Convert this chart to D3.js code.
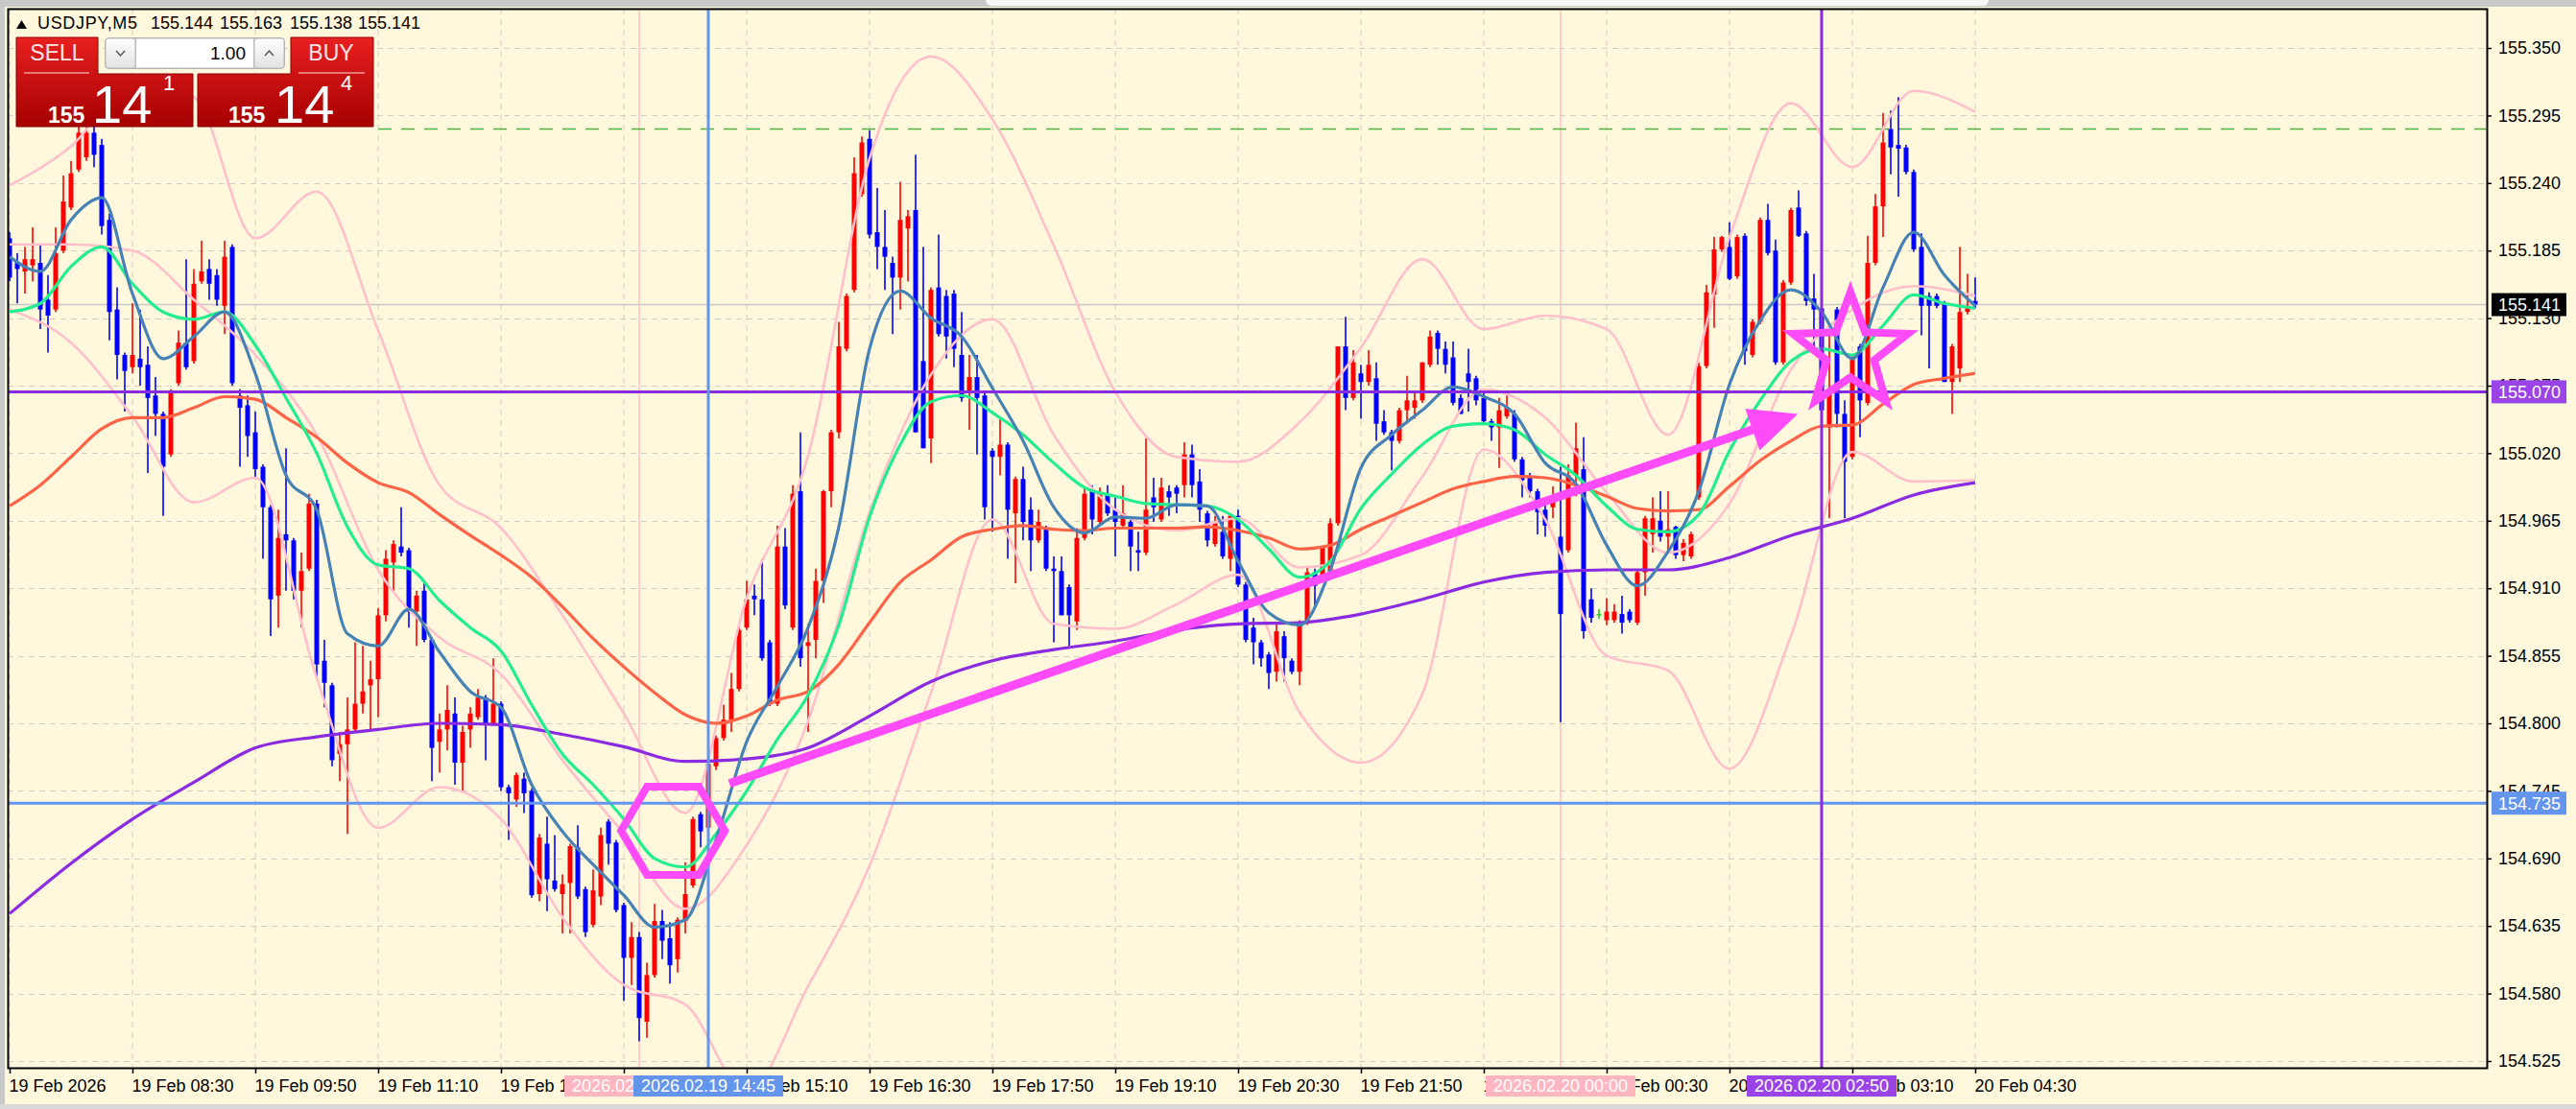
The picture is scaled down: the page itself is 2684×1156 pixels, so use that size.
<!DOCTYPE html>
<html><head><meta charset="utf-8">
<script src="https://cdn.jsdelivr.net/npm/d3@7"></script>
<style>html,body{margin:0;padding:0;background:#FFF8DC;overflow:hidden}text{font-family:"Liberation Sans",Arial,sans-serif}</style>
</head><body><svg id="c" width="2684" height="1156"></svg>
<script>
// ---------------- DATA ----------------
const symbol = "USDJPY,M5";
const headerOHLC = ["155.144", "155.163", "155.138", "155.141"];
const startTime = "2026.02.19 07:10"; // first bar, 5-minute bars
const opens = [155.195,155.175,155.168,155.173,155.175,155.145,155.137,155.185,155.220,155.251,155.261,155.281,155.271,155.210,155.137,155.100,155.090,155.097,155.092,155.067,155.052,155.019,155.077,155.110,155.095,155.160,155.170,155.165,155.140,155.188,155.067,155.059,155.037,155.009,154.976,154.904,154.954,154.949,154.908,154.926,154.979,154.851,154.831,154.775,154.783,154.795,154.816,154.831,154.836,154.888,154.931,154.944,154.941,154.891,154.908,154.868,154.785,154.795,154.808,154.768,154.795,154.805,154.821,154.800,154.816,154.748,154.738,154.755,154.745,154.661,154.702,154.672,154.661,154.670,154.699,154.665,154.636,154.659,154.720,154.703,154.652,154.609,154.626,154.557,154.595,154.639,154.625,154.608,154.639,154.668,154.726,154.715,154.765,154.788,154.803,154.828,154.878,154.904,154.901,154.866,154.816,154.944,154.878,154.989,154.863,154.868,154.916,154.989,155.037,155.105,155.153,155.231,155.276,155.200,155.188,155.175,155.163,155.203,155.218,155.095,155.032,155.155,155.148,155.150,155.100,155.070,155.082,155.067,155.022,155.017,155.027,154.971,154.999,154.974,154.949,154.959,154.926,154.924,154.911,154.883,154.951,154.989,154.964,154.987,154.974,154.961,154.964,154.941,154.939,154.984,154.966,154.989,154.992,154.994,155.019,154.997,154.971,154.946,154.956,154.934,154.969,154.913,154.878,154.866,154.856,154.842,154.871,154.851,154.842,154.882,154.923,154.917,154.923,154.963,155.107,155.065,155.085,155.078,155.081,155.046,155.037,155.030,155.055,155.057,155.063,155.092,155.118,155.105,155.098,155.065,155.085,155.081,155.065,155.046,155.041,155.050,155.052,155.015,155.000,154.989,154.974,154.976,154.952,154.941,155.002,155.007,154.901,154.889,154.884,154.884,154.889,154.891,154.882,154.923,154.954,154.965,154.952,154.960,154.937,154.936,154.984,155.091,155.149,155.186,155.188,155.164,155.197,155.100,155.127,155.210,155.185,155.094,155.159,155.220,155.199,155.146,155.138,155.041,155.137,155.052,155.017,155.107,155.061,155.175,155.221,155.284,155.271,155.269,155.249,155.188,155.148,155.148,155.142,155.078,155.089,155.135,155.144];
const highs = [155.200,155.183,155.188,155.204,155.190,155.165,155.204,155.246,155.258,155.292,155.295,155.290,155.276,155.215,155.155,155.102,155.142,155.137,155.107,155.082,155.054,155.072,155.120,155.178,155.170,155.193,155.178,155.170,155.193,155.190,155.072,155.067,155.054,155.011,154.978,154.974,155.024,154.951,154.939,154.987,154.982,154.868,154.833,154.793,154.821,154.866,154.863,154.851,154.894,154.941,154.949,154.976,154.943,154.908,154.916,154.870,154.808,154.831,154.821,154.798,154.813,154.828,154.823,154.853,154.818,154.750,154.760,154.760,154.747,154.710,154.724,154.709,154.677,154.702,154.717,154.667,154.681,154.715,154.722,154.705,154.654,154.638,154.630,154.605,154.653,154.648,154.638,154.642,154.687,154.724,154.728,154.778,154.790,154.815,154.841,154.881,154.916,154.913,154.934,154.868,154.961,154.959,154.994,155.037,154.881,154.926,154.990,155.039,155.127,155.150,155.261,155.278,155.283,155.236,155.218,155.180,155.241,155.218,155.263,155.188,155.155,155.198,155.153,155.153,155.135,155.100,155.100,155.069,155.024,155.049,155.029,155.001,155.009,154.984,154.974,154.961,154.936,154.936,154.913,154.959,154.992,154.994,154.992,154.994,154.984,154.994,154.966,154.956,155.032,155.000,155.000,154.994,154.994,155.029,155.027,155.007,154.973,154.969,154.969,154.971,154.974,154.915,154.886,154.868,154.858,154.882,154.875,154.853,154.884,154.928,154.926,154.943,154.967,155.107,155.131,155.104,155.092,155.104,155.094,155.055,155.039,155.057,155.083,155.070,155.094,155.120,155.120,155.111,155.111,155.068,155.105,155.083,155.070,155.048,155.065,155.067,155.055,155.017,155.004,154.991,154.978,154.993,155.009,155.011,155.045,155.033,154.910,154.893,154.902,154.897,154.904,154.893,154.925,154.969,154.984,154.989,154.989,154.961,154.950,154.956,155.094,155.157,155.196,155.197,155.208,155.198,155.199,155.129,155.212,155.223,155.194,155.161,155.220,155.234,155.201,155.166,155.140,155.120,155.139,155.063,155.100,155.109,155.197,155.231,155.297,155.299,155.310,155.271,155.251,155.199,155.151,155.150,155.144,155.109,155.188,155.166,155.163];
const lows = [155.160,155.142,155.150,155.160,155.121,155.102,155.135,155.183,155.218,155.249,155.258,155.253,155.198,155.112,155.080,155.054,155.085,155.075,155.004,155.034,154.969,155.017,155.075,155.088,155.093,155.158,155.145,155.140,155.117,155.075,155.009,155.017,154.999,154.934,154.871,154.878,154.908,154.901,154.878,154.924,154.838,154.813,154.765,154.753,154.710,154.793,154.808,154.795,154.805,154.883,154.908,154.936,154.878,154.863,154.866,154.753,154.760,154.778,154.750,154.745,154.780,154.803,154.770,154.798,154.745,154.705,154.732,154.727,154.658,154.655,154.647,154.663,154.629,154.629,154.657,154.626,154.634,154.652,154.685,154.646,154.574,154.587,154.541,154.544,154.593,154.608,154.588,154.597,154.629,154.666,154.699,154.705,154.762,154.786,154.793,154.826,154.876,154.888,154.851,154.814,154.814,154.893,154.876,154.846,154.793,154.853,154.898,154.976,155.032,155.103,155.151,155.229,155.195,155.170,155.153,155.117,155.137,155.160,155.037,155.024,155.012,155.115,155.097,155.090,155.062,155.039,155.019,154.966,154.956,155.002,154.934,154.914,154.949,154.924,154.947,154.924,154.866,154.888,154.863,154.876,154.949,154.954,154.961,154.969,154.936,154.959,154.924,154.924,154.937,154.964,154.964,154.969,154.971,154.984,154.984,154.964,154.944,154.944,154.934,154.924,154.911,154.866,154.848,154.846,154.828,154.834,154.834,154.840,154.831,154.880,154.893,154.915,154.921,154.961,155.055,155.063,155.048,155.075,155.030,155.035,155.006,155.028,155.044,155.048,155.061,155.090,155.092,155.085,155.059,155.052,155.054,155.059,155.044,155.030,155.008,155.048,155.013,154.984,154.984,154.954,154.952,154.967,154.801,154.939,154.985,154.869,154.882,154.885,154.880,154.882,154.873,154.882,154.880,154.904,154.939,154.948,154.941,154.934,154.932,154.934,154.982,155.089,155.122,155.184,155.161,155.162,155.092,155.098,155.125,155.181,155.092,155.092,155.157,155.196,155.140,155.104,154.897,154.967,155.041,154.967,155.015,155.033,155.059,155.173,155.196,155.247,155.229,155.247,155.184,155.116,155.089,155.138,155.078,155.052,155.078,155.133,155.138];
const closes = [155.163,155.170,155.178,155.178,155.137,155.132,155.183,155.225,155.248,155.281,155.281,155.263,155.205,155.135,155.100,155.087,155.100,155.090,155.065,155.052,155.009,155.070,155.110,155.090,155.158,155.168,155.158,155.145,155.180,155.077,155.057,155.034,155.007,154.976,154.901,154.951,154.949,154.908,154.924,154.979,154.848,154.833,154.770,154.783,154.795,154.816,154.826,154.836,154.888,154.934,154.946,154.939,154.891,154.904,154.868,154.780,154.795,154.811,154.768,154.793,154.808,154.821,154.800,154.816,154.748,154.743,154.758,154.743,154.660,154.707,154.673,154.665,154.669,154.700,154.659,154.630,154.664,154.709,154.702,154.648,154.609,154.626,154.560,154.595,154.639,154.623,154.603,154.640,154.661,154.722,154.712,154.767,154.788,154.803,154.828,154.876,154.901,154.901,154.853,154.816,154.944,154.896,154.987,154.853,154.866,154.916,154.989,155.037,155.107,155.148,155.248,155.273,155.198,155.188,155.180,155.163,155.210,155.213,155.037,155.024,155.153,155.117,155.115,155.105,155.065,155.082,155.065,154.976,155.017,155.027,154.974,154.999,154.964,154.949,154.964,154.926,154.924,154.888,154.888,154.951,154.987,154.966,154.987,154.971,154.964,154.971,154.944,154.939,154.974,154.976,154.992,154.984,154.987,155.019,154.994,154.974,154.949,154.964,154.936,154.969,154.913,154.868,154.866,154.853,154.841,154.875,154.853,154.842,154.882,154.923,154.912,154.943,154.963,155.107,155.065,155.094,155.078,155.092,155.044,155.037,155.030,155.055,155.063,155.063,155.094,155.115,155.105,155.092,155.061,155.052,155.078,155.063,155.046,155.041,155.055,155.057,155.015,154.998,154.989,154.972,154.961,154.982,154.889,155.002,155.024,154.875,154.886,154.889,154.891,154.891,154.882,154.884,154.923,154.967,154.967,154.952,154.958,154.937,154.947,154.954,155.091,155.151,155.186,155.196,155.162,155.196,155.103,155.127,155.210,155.183,155.094,155.159,155.218,155.197,155.144,155.137,155.055,155.070,155.052,155.013,155.096,155.063,155.175,155.221,155.273,155.269,155.268,155.249,155.186,155.140,155.140,155.140,155.078,155.107,155.135,155.140,155.141];

// indicator readings (sampled every 4 bars)
const maStep = 4;
const maFast = [155.180,155.168,155.210,155.228,155.150,155.097,155.115,155.135,155.085,155.002,154.974,154.873,154.863,154.893,154.858,154.826,154.813,154.750,154.712,154.685,154.660,154.634,154.640,154.705,154.785,154.830,154.878,154.960,155.105,155.152,155.130,155.115,155.073,155.030,154.976,154.955,154.968,154.967,154.978,154.977,154.932,154.890,154.880,154.925,155.008,155.035,155.055,155.074,155.066,155.052,155.012,154.995,154.945,154.912,154.940,154.989,155.076,155.128,155.153,155.135,155.097,155.155,155.200,155.165,155.140];
const maMid = [155.135,155.142,155.172,155.188,155.158,155.135,155.129,155.135,155.108,155.065,155.020,154.960,154.929,154.926,154.900,154.878,154.859,154.815,154.775,154.750,154.722,154.690,154.683,154.710,154.745,154.787,154.823,154.880,154.968,155.027,155.062,155.067,155.053,155.035,155.012,154.992,154.985,154.979,154.978,154.977,154.966,154.942,154.919,154.932,154.975,155.003,155.027,155.042,155.044,155.039,155.019,155.002,154.977,154.958,154.956,154.970,155.022,155.063,155.095,155.105,155.100,155.124,155.149,155.142,155.138];
const maSlow = [154.977,154.994,155.017,155.040,155.049,155.049,155.057,155.066,155.064,155.049,155.033,155.012,154.996,154.988,154.970,154.953,154.937,154.919,154.895,154.869,154.846,154.825,154.807,154.800,154.806,154.819,154.826,154.848,154.882,154.915,154.933,154.952,154.958,154.961,154.958,154.957,154.959,154.959,154.959,154.960,154.957,154.951,154.942,154.945,154.958,154.969,154.980,154.991,154.997,155.001,155.000,154.994,154.985,154.975,154.973,154.974,154.993,155.014,155.030,155.042,155.043,155.060,155.076,155.081,155.085];
// sampled every 8 bars
const longStep = 8;
const maLong = [154.645,154.686,154.722,154.752,154.780,154.789,154.795,154.800,154.799,154.791,154.781,154.769,154.771,154.780,154.806,154.834,154.851,154.860,154.867,154.876,154.881,154.882,154.889,154.901,154.915,154.923,154.925,154.925,154.935,154.953,154.967,154.986,154.996];
const bbUpper = [155.238,155.270,155.320,155.310,155.195,155.233,155.120,154.994,154.959,154.888,154.808,154.727,154.902,155.018,155.260,155.343,155.292,155.189,155.070,155.017,155.013,155.045,155.106,155.178,155.121,155.132,155.121,155.035,155.196,155.305,155.253,155.315,155.298];
const bbMiddle = [155.190,155.190,155.185,155.145,155.100,155.035,154.925,154.870,154.840,154.770,154.710,154.649,154.701,154.802,154.972,155.084,155.129,155.035,154.974,154.957,154.967,154.927,154.937,155.001,155.072,155.049,154.988,154.939,154.979,155.088,155.137,155.156,155.148];
const bbLower = [155.137,155.110,155.050,154.980,155.000,154.837,154.715,154.748,154.722,154.642,154.587,154.571,154.500,154.586,154.684,154.825,154.966,154.881,154.877,154.897,154.921,154.809,154.768,154.824,155.023,154.966,154.855,154.843,154.763,154.871,155.021,154.997,154.998];

const priceTicks = [155.350,155.295,155.240,155.185,155.130,155.075,155.020,154.965,154.910,154.855,154.800,154.745,154.690,154.635,154.580,154.525];
const timeTicks = ["2026.02.19 07:10","2026.02.19 08:30","2026.02.19 09:50","2026.02.19 11:10","2026.02.19 12:30","2026.02.19 13:50","2026.02.19 15:10","2026.02.19 16:30","2026.02.19 17:50","2026.02.19 19:10","2026.02.19 20:30","2026.02.19 21:50","2026.02.19 23:10","2026.02.20 00:30","2026.02.20 01:50","2026.02.20 03:10","2026.02.20 04:30"];
const timeTickLabels = ["19 Feb 2026","19 Feb 08:30","19 Feb 09:50","19 Feb 11:10","19 Feb 12:30","19 Feb 13:50","19 Feb 15:10","19 Feb 16:30","19 Feb 17:50","19 Feb 19:10","19 Feb 20:30","19 Feb 21:50","19 Feb 23:10","20 Feb 00:30","20 Feb 01:50","20 Feb 03:10","20 Feb 04:30"];

const bidPrice = 155.141;
const greenLevel = {from:"2026.02.19 11:10", price:155.284};
const hLevels = [{price:155.070, color:"#8A2BE2", box:"#9A44E8"}, {price:154.735, color:"#6495ED", box:"#6495ED"}];
const vMarks = [
  {time:"2026.02.19 14:00", color:"#FFB6C1", w:1.2, box:"#FFB6C1"},
  {time:"2026.02.19 14:45", color:"#6495ED", w:3, box:"#6495ED"},
  {time:"2026.02.20 00:00", color:"#FFB6C1", w:1.2, box:"#FFB6C1"},
  {time:"2026.02.20 02:50", color:"#8A2BE2", w:3, box:"#9A44E8"}
];
// drawn annotations in (bar offset, price)
const hexagon = {bar:86.4, price:154.7125};
const arrow = {from:{bar:93.75, price:154.751}, to:{bar:232.9, price:155.052}};
const star = {bar:239.75, price:155.102};

// ---------------- CHART ----------------
const svg = d3.select("#c");
const L = 8, R = 2591, T = 9, B = 1113;
const parseT = d3.timeParse("%Y.%m.%d %H:%M");
const t0 = parseT(startTime);
const barOf = s => (parseT(s) - t0) / 300000;
const n = closes.length;
const x = d3.scaleLinear().domain([0, n - 1]).range([10, 10 + 8 * (n - 1)]);
const y = d3.scaleLinear().domain([154.525, 155.350]).range([1106, 50]);
const bg = "#FFF8DC";

const defs = svg.append("defs");
defs.append("clipPath").attr("id","plot").append("rect").attr("x",L+1).attr("y",T+1).attr("width",R-L-1).attr("height",B-T-1);
const gr = defs.append("linearGradient").attr("id","red").attr("x1",0).attr("y1",0).attr("x2",0).attr("y2",1);
gr.append("stop").attr("offset","0%").attr("stop-color","#E82020");
gr.append("stop").attr("offset","100%").attr("stop-color","#A50000");
const gb = defs.append("linearGradient").attr("id","btn").attr("x1",0).attr("y1",0).attr("x2",0).attr("y2",1);
gb.append("stop").attr("offset","0%").attr("stop-color","#FFFFFF");
gb.append("stop").attr("offset","100%").attr("stop-color","#E2E2E2");

svg.append("rect").attr("width",2684).attr("height",1156).attr("fill",bg);
// window frame bits
svg.append("rect").attr("x",0).attr("y",0).attr("width",2684).attr("height",7).attr("fill","#C9C9C9");
svg.append("rect").attr("x",1027).attr("y",-6).attr("width",1045).attr("height",12).attr("rx",6).attr("fill","#F7F7F7");
svg.append("rect").attr("x",0).attr("y",0).attr("width",5).attr("height",1156).attr("fill","#C9C9C9");
svg.append("rect").attr("x",0).attr("y",1151).attr("width",2684).attr("height",5).attr("fill","#DADADA");

const plot = svg.append("g").attr("clip-path","url(#plot)");
// grid
plot.append("g").selectAll("line").data(timeTicks).join("line")
  .attr("x1",d=>x(barOf(d))).attr("x2",d=>x(barOf(d))).attr("y1",T).attr("y2",B)
  .attr("stroke","#CFCFC8").attr("stroke-dasharray","6,5");
plot.append("g").selectAll("line").data(priceTicks).join("line")
  .attr("x1",L).attr("x2",R).attr("y1",d=>Math.round(y(d))+0.5).attr("y2",d=>Math.round(y(d))+0.5)
  .attr("stroke","#CFCFC8").attr("stroke-dasharray","6,5");

// thin pink separators
vMarks.filter(v=>v.w<2).forEach(v=>{
  plot.append("line").attr("x1",x(barOf(v.time))).attr("x2",x(barOf(v.time))).attr("y1",T).attr("y2",B)
    .attr("stroke",v.color).attr("stroke-width",v.w);
});
// bid line
plot.append("line").attr("x1",L).attr("x2",R).attr("y1",y(bidPrice)).attr("y2",y(bidPrice)).attr("stroke","#C8C8C8").attr("stroke-width",1.5);
// green dashed level
plot.append("line").attr("x1",x(barOf(greenLevel.from))).attr("x2",R).attr("y1",y(greenLevel.price)).attr("y2",y(greenLevel.price))
  .attr("stroke","#4CB43C").attr("stroke-width",1.5).attr("stroke-dasharray","14,10");

function series(vals, step){ return vals.map((v,i)=>({b:i*step, v})); }
const lineGen = d3.line().x(d=>x(d.b)).y(d=>y(d.v)).curve(d3.curveMonotoneX);
function drawLine(vals, step, color, w){
  plot.append("path").datum(series(vals,step)).attr("d",lineGen).attr("fill","none")
    .attr("stroke",color).attr("stroke-width",w).attr("stroke-linejoin","round");
}
// candles
const cg = plot.append("g");
const idx = d3.range(n);
const col = i => closes[i]>opens[i]?"#FF0000":closes[i]<opens[i]?"#0000FF":"#22CC22";
cg.selectAll("line.w").data(idx).join("line").attr("class","w")
  .attr("x1",i=>x(i)).attr("x2",i=>x(i)).attr("y1",i=>y(highs[i])).attr("y2",i=>y(lows[i]))
  .attr("stroke",col).attr("stroke-width",1.6);
cg.selectAll("rect").data(idx).join("rect")
  .attr("x",i=>x(i)-2.5).attr("width",5)
  .attr("y",i=>y(Math.max(opens[i],closes[i])))
  .attr("height",i=>Math.max(1.5, y(Math.min(opens[i],closes[i]))-y(Math.max(opens[i],closes[i]))))
  .attr("fill",col);

// indicators
drawLine(bbUpper, longStep, "#FFC0CB", 2.6);
drawLine(bbMiddle, longStep, "#FFC0CB", 2.6);
drawLine(bbLower, longStep, "#FFC0CB", 2.6);
drawLine(maLong, longStep, "#8A2BE2", 3.2);
drawLine(maSlow, maStep, "#FF6347", 3.2);
drawLine(maMid, maStep, "#22EE90", 3.2);
drawLine(maFast, maStep, "#4682B4", 3.2);

// object lines
hLevels.forEach(h=>{
  plot.append("line").attr("x1",L).attr("x2",R).attr("y1",y(h.price)).attr("y2",y(h.price)).attr("stroke",h.color).attr("stroke-width",3);
});
vMarks.filter(v=>v.w>=2).forEach(v=>{
  plot.append("line").attr("x1",x(barOf(v.time))).attr("x2",x(barOf(v.time))).attr("y1",T).attr("y2",B)
    .attr("stroke",v.color).attr("stroke-width",v.w);
});

// magenta annotations
const mag = "#FF4BFA";
{
  const cx = x(hexagon.bar), cy = y(hexagon.price), rx = 54, ry = 46;
  const pts = [[cx-rx,cy],[cx-rx/2,cy-ry],[cx+rx/2,cy-ry],[cx+rx,cy],[cx+rx/2,cy+ry],[cx-rx/2,cy+ry]];
  plot.append("polygon").attr("points",pts.map(p=>p.join(",")).join(" ")).attr("fill","none").attr("stroke",mag).attr("stroke-width",8).attr("stroke-linejoin","miter");
}
{
  const x1 = x(arrow.from.bar), y1 = y(arrow.from.price), x2 = x(arrow.to.bar), y2 = y(arrow.to.price);
  const dx = x2-x1, dy = y2-y1, len = Math.hypot(dx,dy), ux = dx/len, uy = dy/len;
  const hl = 50, hw = 23;
  const bx = x2-ux*hl, by = y2-uy*hl;
  plot.append("line").attr("x1",x1).attr("y1",y1).attr("x2",bx+ux*4).attr("y2",by+uy*4).attr("stroke",mag).attr("stroke-width",9);
  plot.append("polygon").attr("points",[[x2,y2],[bx-uy*hw,by+ux*hw],[bx+uy*hw,by-ux*hw]].map(p=>p.join(",")).join(" ")).attr("fill",mag);
}
{
  const cx = x(star.bar), cy = y(star.price), Ro = 63, Ri = 26;
  const pts = d3.range(10).map(k=>{const a=-Math.PI/2+k*Math.PI/5, r=k%2?Ri:Ro; return [cx+r*Math.cos(a), cy+r*Math.sin(a)];});
  plot.append("polygon").attr("points",pts.map(p=>p.join(",")).join(" ")).attr("fill","none").attr("stroke",mag).attr("stroke-width",8).attr("stroke-linejoin","miter");
}

// frame
svg.append("rect").attr("x",L+0.5).attr("y",T+0.5).attr("width",R-L).attr("height",B-T).attr("fill","none").attr("stroke","#000").attr("stroke-width",2);

// axes
const ax = svg.append("g").attr("transform",`translate(${R},0)`)
  .call(d3.axisRight(y).tickValues(priceTicks).tickFormat(d3.format(".3f")).tickSize(5).tickPadding(7));
ax.select(".domain").remove();
ax.selectAll("line").attr("stroke","#000").attr("stroke-width",1.5);
ax.selectAll("text").attr("font-size",18).attr("fill","#000").style("font-family","Liberation Sans");

const bx = svg.append("g").attr("transform",`translate(0,${B})`)
  .call(d3.axisBottom(x).tickValues(timeTicks.map(barOf)).tickFormat((d,i)=>timeTickLabels[i]).tickSize(6).tickPadding(6));
bx.select(".domain").remove();
bx.selectAll("line").attr("stroke","#000").attr("stroke-width",1.5);
bx.selectAll("text").attr("font-size",18).attr("fill","#000").attr("text-anchor","start").attr("dx",-1).style("font-family","Liberation Sans");

// right axis highlighted labels
function priceBox(p, fill){
  const yy = y(p);
  svg.append("rect").attr("x",2596).attr("y",yy-12).attr("width",78).attr("height",24).attr("fill",fill);
  svg.append("text").attr("x",2603).attr("y",yy+6.5).attr("font-size",18).attr("fill","#fff").text(d3.format(".3f")(p));
}
hLevels.forEach(h=>priceBox(h.price,h.box));
priceBox(bidPrice,"#000");
// bottom highlighted labels
vMarks.forEach(v=>{
  const xx = x(barOf(v.time));
  svg.append("rect").attr("x",xx-78).attr("y",1121).attr("width",156).attr("height",22).attr("fill",v.box);
  svg.append("text").attr("x",xx).attr("y",1138).attr("text-anchor","middle").attr("font-size",18).attr("fill","#fff").text(v.time);
});

// header
svg.append("polygon").attr("points","17,30 28,30 22.5,21").attr("fill","#000");
svg.append("text").attr("x",39).attr("y",30).attr("font-size",18).attr("textLength",104).text(symbol);
[157,229,302,373].forEach((xx,i)=>svg.append("text").attr("x",xx).attr("y",30).attr("font-size",18).text(headerOHLC[i]));

// trade panel
const panel = svg.append("g");
panel.append("path").attr("d","M17,39 H102 V77 H201 V132 H17 Z").attr("fill","url(#red)").attr("stroke","#8A0000");
panel.append("path").attr("d","M303,39 H389 V132 H206 V77 H303 Z").attr("fill","url(#red)").attr("stroke","#8A0000");
panel.append("line").attr("x1",25).attr("x2",93).attr("y1",76).attr("y2",76).attr("stroke","#F39A9A").attr("stroke-width",1.5);
panel.append("line").attr("x1",311).attr("x2",380).attr("y1",76).attr("y2",76).attr("stroke","#F39A9A").attr("stroke-width",1.5);
panel.append("text").attr("x",59.5).attr("y",63).attr("text-anchor","middle").attr("font-size",23).attr("fill","#FFE6E6").text("SELL");
panel.append("text").attr("x",345).attr("y",63).attr("text-anchor","middle").attr("font-size",23).attr("fill","#FFE6E6").text("BUY");
panel.append("rect").attr("x",109.5).attr("y",39.5).attr("width",187).attr("height",32).attr("rx",4).attr("fill","#F2F2F2").attr("stroke","#A9A9A9");
panel.append("rect").attr("x",110).attr("y",40).attr("width",31).attr("height",31).attr("rx",3).attr("fill","url(#btn)").attr("stroke","#BDBDBD");
panel.append("rect").attr("x",265).attr("y",40).attr("width",31).attr("height",31).attr("rx",3).attr("fill","url(#btn)").attr("stroke","#BDBDBD");
panel.append("rect").attr("x",141.5).attr("y",40).attr("width",123).attr("height",31).attr("fill","#fff").attr("stroke","#BDBDBD");
panel.append("polyline").attr("points","121,53 125.5,58 130,53").attr("fill","none").attr("stroke","#555").attr("stroke-width",1.5);
panel.append("polyline").attr("points","276,58 280.5,53 285,58").attr("fill","none").attr("stroke","#555").attr("stroke-width",1.5);
panel.append("text").attr("x",256).attr("y",62).attr("text-anchor","end").attr("font-size",19).text("1.00");
[[50,100,170,"1"],[238,290,355,"4"]].forEach(([a,b,c,s])=>{
  panel.append("text").attr("x",a).attr("y",128).attr("font-size",23).attr("font-weight","bold").attr("fill","#fff").text("155");
  panel.append("text").attr("x",b-4).attr("y",128).attr("font-size",56).attr("fill","#fff").text("14");
  panel.append("text").attr("x",c).attr("y",94).attr("font-size",22).attr("fill","#fff").text(s);
});
</script></body></html>
